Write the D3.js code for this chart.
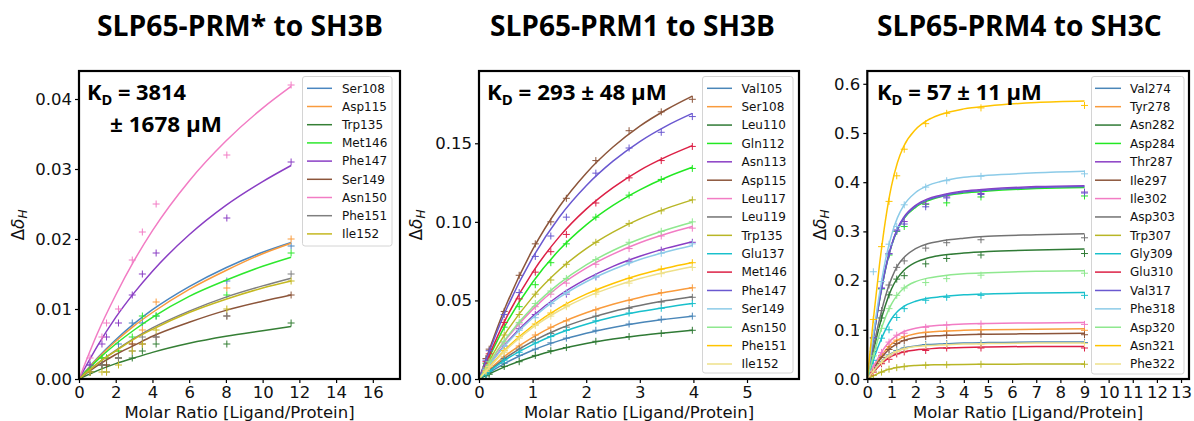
<!DOCTYPE html>
<html><head><meta charset="utf-8">
<script src="https://cdn.jsdelivr.net/npm/d3@7"></script>
<style>
body{margin:0;background:#fff}
svg{display:block}
</style>
</head><body>
<svg id="c" width="1194" height="421"></svg>
<script>
// ---------------- DATA ----------------
const titles = ["SLP65-PRM* to SH3B", "SLP65-PRM1 to SH3B", "SLP65-PRM4 to SH3C"];
const kdTexts = [["3814", "± 1678 µM"], ["293 ± 48 µM"], ["57 ± 11 µM"]];
const xLabel = "Molar Ratio [Ligand/Protein]";

const p1Ticks = {x: [0, 2, 4, 6, 8, 10, 12, 14, 16], y: [0, 0.01, 0.02, 0.03, 0.04]};
const p2Ticks = {x: [0, 1, 2, 3, 4, 5], y: [0, 0.05, 0.10, 0.15]};
const p3Ticks = {x: [0,1,2,3,4,5,6,7,8,9,10,11,12,13], y: [0, 0.1, 0.2, 0.3, 0.4, 0.5, 0.6]};

// Panel 1
const p1Residues = ["Ser108","Asp115","Trp135","Met146","Phe147","Ser149","Asn150","Phe151","Ile152"];
const p1PointX = [0.6, 1.25, 1.5, 2.15, 2.9, 3.45, 4.2, 8.05, 11.55];
const p1PointY = [
  [0.002,0.003,0.003,0.005,0.008,0.008,0.009,0.014,0.019],
  [0.001,0.003,0.003,0.004,0.005,0.007,0.011,0.013,0.020],
  [0.001,0.002,0.002,0.003,0.003,0.004,0.005,0.005,0.008],
  [0.001,0.003,0.003,0.004,0.006,0.009,0.009,0.012,0.018],
  [0.002,0.005,0.006,0.008,0.012,0.015,0.018,0.023,0.031],
  [0.001,0.002,0.002,0.003,0.005,0.005,0.006,0.009,0.012],
  [0.003,0.006,0.008,0.010,0.017,0.021,0.025,0.032,0.042],
  [0.001,0.002,0.001,0.003,0.004,0.006,0.006,0.009,0.015],
  [0.001,0.001,0.001,0.002,0.004,0.005,0.007,0.010,0.014]
];
const p1FitX = [0, 1, 2, 3, 4, 6, 8, 10, 11.55];
const p1FitY = [
  [0,0.0030,0.0056,0.0079,0.0099,0.0132,0.0159,0.0181,0.0195],
  [0,0.0029,0.0054,0.0076,0.0095,0.0128,0.0155,0.0179,0.0194],
  [0,0.0012,0.0022,0.0030,0.0038,0.0051,0.0061,0.0069,0.0075],
  [0,0.0027,0.0050,0.0070,0.0088,0.0118,0.0141,0.0161,0.0174],
  [0,0.0047,0.0088,0.0123,0.0154,0.0206,0.0248,0.0282,0.0305],
  [0,0.0019,0.0035,0.0048,0.0061,0.0081,0.0098,0.0111,0.0120],
  [0,0.0065,0.0120,0.0169,0.0212,0.0283,0.0340,0.0387,0.0418],
  [0,0.0022,0.0041,0.0058,0.0073,0.0097,0.0117,0.0133,0.0144],
  [0,0.0022,0.0040,0.0057,0.0071,0.0095,0.0114,0.0130,0.0140]
];

// Panel 2
const p2Residues = ["Val105","Ser108","Leu110","Gln112","Asn113","Asp115","Leu117","Leu119","Trp135","Glu137","Met146","Phe147","Ser149","Asn150","Phe151","Ile152"];
const p2PointX = [0.13, 0.19, 0.47, 0.75, 1.05, 1.34, 1.63, 2.18, 2.8, 3.4, 3.98];
const p2PointY = [
  [0.003,0.004,0.010,0.015,0.019,0.023,0.026,0.031,0.035,0.038,0.040],
  [0.004,0.006,0.014,0.021,0.028,0.033,0.037,0.044,0.050,0.055,0.058],
  [0.002,0.003,0.008,0.011,0.015,0.018,0.020,0.024,0.027,0.029,0.031],
  [0.010,0.014,0.033,0.046,0.060,0.074,0.086,0.103,0.117,0.127,0.134],
  [0.006,0.009,0.021,0.032,0.041,0.048,0.054,0.065,0.075,0.082,0.087],
  [0.013,0.019,0.043,0.066,0.086,0.100,0.115,0.139,0.158,0.170,0.178],
  [0.007,0.010,0.023,0.035,0.046,0.054,0.061,0.073,0.083,0.091,0.096],
  [0.004,0.006,0.013,0.019,0.025,0.029,0.033,0.040,0.045,0.049,0.052],
  [0.008,0.012,0.028,0.041,0.054,0.063,0.073,0.087,0.099,0.107,0.114],
  [0.003,0.005,0.012,0.017,0.023,0.027,0.031,0.037,0.042,0.045,0.048],
  [0.011,0.016,0.036,0.051,0.068,0.081,0.092,0.112,0.128,0.139,0.148],
  [0.012,0.018,0.041,0.055,0.078,0.091,0.103,0.131,0.147,0.157,0.167],
  [0.006,0.009,0.021,0.031,0.039,0.048,0.055,0.065,0.074,0.080,0.086],
  [0.007,0.011,0.024,0.036,0.048,0.056,0.064,0.076,0.087,0.094,0.100],
  [0.005,0.008,0.018,0.027,0.035,0.042,0.047,0.056,0.064,0.070,0.074],
  [0.005,0.008,0.017,0.026,0.034,0.040,0.046,0.054,0.061,0.067,0.071]
];
const p2FitX = [0, 0.5, 1, 1.5, 2, 2.5, 3, 3.5, 3.98];
const p2FitY = [
  [0,0.0103,0.0183,0.0244,0.0291,0.0328,0.0358,0.0381,0.0400],
  [0,0.0150,0.0265,0.0354,0.0422,0.0476,0.0519,0.0553,0.0580],
  [0,0.0080,0.0142,0.0189,0.0226,0.0254,0.0277,0.0295,0.0310],
  [0,0.0348,0.0616,0.0822,0.0981,0.1105,0.1204,0.1284,0.1347],
  [0,0.0225,0.0399,0.0533,0.0636,0.0717,0.0781,0.0833,0.0874],
  [0,0.0464,0.0823,0.1098,0.1310,0.1476,0.1609,0.1715,0.1800],
  [0,0.0250,0.0443,0.0592,0.0706,0.0795,0.0867,0.0924,0.0970],
  [0,0.0135,0.0239,0.0320,0.0381,0.0430,0.0468,0.0499,0.0524],
  [0,0.0294,0.0521,0.0695,0.0830,0.0935,0.1019,0.1086,0.1140],
  [0,0.0124,0.0219,0.0293,0.0349,0.0394,0.0429,0.0457,0.0480],
  [0,0.0383,0.0679,0.0906,0.1081,0.1218,0.1328,0.1415,0.1485],
  [0,0.0436,0.0772,0.1031,0.1230,0.1386,0.1511,0.1611,0.1690],
  [0,0.0219,0.0388,0.0519,0.0619,0.0697,0.0760,0.0810,0.0850],
  [0,0.0257,0.0456,0.0608,0.0726,0.0818,0.0891,0.0950,0.0997],
  [0,0.0191,0.0339,0.0453,0.0540,0.0608,0.0663,0.0707,0.0742],
  [0,0.0184,0.0327,0.0436,0.0521,0.0586,0.0639,0.0681,0.0715]
];

// Panel 3
const p3Residues = ["Val274","Tyr278","Asn282","Asp284","Thr287","Ile297","Ile302","Asp303","Trp307","Gly309","Glu310","Val317","Phe318","Asp320","Asn321","Phe322"];
const p3PointX = [0.25, 0.59, 0.9, 1.22, 1.53, 2.42, 3.29, 4.71, 9.0];
const p3PointY = [
  [0.016,0.035,0.049,0.058,0.063,0.070,0.072,0.073,0.074],
  [0.022,0.048,0.066,0.079,0.086,0.095,0.098,0.100,0.099],
  [0.056,0.124,0.171,0.203,0.210,0.234,0.245,0.252,0.255],
  [0.083,0.183,0.252,0.300,0.310,0.355,0.358,0.370,0.372],
  [0.084,0.185,0.255,0.303,0.320,0.356,0.370,0.377,0.380],
  [0.020,0.044,0.060,0.072,0.078,0.086,0.089,0.091,0.090],
  [0.025,0.054,0.075,0.089,0.093,0.105,0.110,0.112,0.111],
  [0.063,0.139,0.191,0.227,0.240,0.266,0.277,0.283,0.287],
  [0.007,0.014,0.020,0.023,0.025,0.028,0.029,0.030,0.030],
  [0.038,0.083,0.100,0.125,0.143,0.160,0.166,0.170,0.170],
  [0.014,0.031,0.040,0.051,0.055,0.058,0.063,0.063,0.063],
  [0.084,0.184,0.254,0.301,0.315,0.350,0.368,0.375,0.378],
  [0.218,0.198,0.274,0.310,0.354,0.390,0.403,0.412,0.417],
  [0.047,0.103,0.143,0.170,0.185,0.196,0.204,0.211,0.215],
  [0.121,0.269,0.361,0.413,0.467,0.519,0.540,0.551,0.556],
  [0.016,0.034,0.047,0.056,0.061,0.068,0.070,0.071,0.072]
];
const p3FitX = [0, 0.25, 0.5, 0.75, 1, 1.25, 1.5, 2, 2.5, 3, 4, 5, 7, 9];
const p3FitY = [
  [0,0.016,0.031,0.043,0.052,0.058,0.063,0.067,0.070,0.071,0.073,0.074,0.075,0.075],
  [0,0.022,0.042,0.058,0.071,0.079,0.085,0.092,0.095,0.097,0.099,0.100,0.101,0.102],
  [0,0.056,0.107,0.150,0.183,0.205,0.220,0.237,0.246,0.251,0.256,0.259,0.262,0.264],
  [0,0.083,0.158,0.222,0.270,0.303,0.325,0.349,0.362,0.370,0.378,0.382,0.387,0.389],
  [0,0.084,0.160,0.224,0.272,0.306,0.328,0.353,0.366,0.373,0.382,0.386,0.391,0.393],
  [0,0.020,0.038,0.053,0.064,0.072,0.078,0.084,0.087,0.088,0.090,0.091,0.092,0.093],
  [0,0.025,0.047,0.066,0.080,0.089,0.096,0.103,0.107,0.109,0.112,0.113,0.114,0.115],
  [0,0.063,0.120,0.168,0.204,0.230,0.246,0.265,0.275,0.280,0.286,0.290,0.293,0.295],
  [0,0.0065,0.0124,0.0174,0.0211,0.0237,0.0255,0.0274,0.0284,0.0290,0.0296,0.0300,0.0303,0.0305],
  [0,0.038,0.072,0.100,0.122,0.137,0.147,0.158,0.164,0.167,0.171,0.173,0.175,0.176],
  [0,0.014,0.027,0.038,0.046,0.051,0.055,0.059,0.061,0.063,0.064,0.065,0.066,0.066],
  [0,0.084,0.159,0.223,0.271,0.304,0.326,0.351,0.364,0.371,0.380,0.384,0.389,0.391],
  [0,0.090,0.172,0.241,0.292,0.328,0.352,0.379,0.393,0.401,0.410,0.414,0.419,0.422],
  [0,0.047,0.090,0.125,0.152,0.171,0.184,0.198,0.205,0.209,0.214,0.216,0.219,0.220],
  [0,0.121,0.230,0.322,0.392,0.440,0.472,0.507,0.526,0.537,0.549,0.555,0.562,0.565],
  [0,0.016,0.030,0.042,0.051,0.057,0.061,0.066,0.068,0.069,0.071,0.072,0.073,0.073]
];

// ---------------- STYLES ----------------
const p1Colors = ["#4a86c0","#f99b3c","#357f35","#2ee82e","#8a3ec4","#8c553a","#f27cc4","#7f7f7f","#c4b820"];
const p16Colors = ["#4a86b8","#f99b3c","#2f7a35","#22e822","#8a3ec4","#8c553a","#f27cc4","#737373","#b8b626","#19c0cc","#dc1f45","#6a58d0","#8ccbe8","#8fe88f","#ffc400","#eee08a"];

const svg = d3.select("#c");
const FONT = "'DejaVu Sans', sans-serif";
const BOLD = "'Open Sans', 'Noto Sans', sans-serif";

function fitWidth(sel, x0, target) {
  const w = sel.node().getBBox().width;
  sel.attr("transform", `translate(${x0},0) scale(${target / w},1) translate(${-x0},0)`);
}

function drawPanel(o) {
  const x = d3.scaleLinear().domain([0, o.xmax]).range([o.L, o.R]);
  const y = d3.scaleLinear().domain([0, o.ymax]).range([o.B, o.T]);
  const g = svg.append("g");

  const xa = g.append("g").attr("transform", `translate(0,${o.B})`)
    .call(d3.axisBottom(x).tickValues(o.ticks.x).tickFormat(d3.format("d")).tickSize(4).tickPadding(3));
  const ya = g.append("g").attr("transform", `translate(${o.L},0)`)
    .call(d3.axisLeft(y).tickValues(o.ticks.y).tickFormat(d3.format(o.yfmt)).tickSize(4).tickPadding(3));
  [xa, ya].forEach(a => {
    a.select(".domain").remove();
    a.selectAll("line").attr("stroke", "#000").attr("stroke-width", 1.2);
    a.selectAll("text").attr("font-family", FONT).attr("font-size", 16.5).attr("fill", "#111");
  });

  const clipId = "clip" + o.id;
  svg.append("clipPath").attr("id", clipId).append("rect")
    .attr("x", o.L).attr("y", o.T).attr("width", o.R - o.L).attr("height", o.B - o.T);
  const plot = g.append("g").attr("clip-path", `url(#${clipId})`);

  const line = d3.line().x(d => x(d[0])).y(d => y(d[1])).curve(d3.curveMonotoneX);
  o.residues.forEach((r, i) => {
    const c = o.colors[i];
    const pts = o.px.map((xv, j) => [xv, o.py[i][j]]);
    plot.append("g").selectAll("path").data(pts).join("path")
      .attr("d", d => { const X = x(d[0]), Y = y(d[1]); return `M${X - 3.5},${Y}h7M${X},${Y - 3.5}v7`; })
      .attr("stroke", c).attr("stroke-width", 1).attr("fill", "none");
    const fit = o.fx.map((xv, j) => [xv, o.fy[i][j]]);
    plot.append("path").attr("d", line(fit)).attr("fill", "none")
      .attr("stroke", c).attr("stroke-width", 1.5);
  });

  // legend
  const lg = o.legend;
  g.append("rect").attr("x", lg.x0).attr("y", lg.y0).attr("width", lg.x1 - lg.x0).attr("height", lg.y1 - lg.y0)
    .attr("rx", 2.5).attr("fill", "#fff").attr("fill-opacity", 0.85).attr("stroke", "#d4d4d4").attr("stroke-width", 1);
  o.residues.forEach((r, i) => {
    const yy = lg.row0 + i * lg.dy;
    g.append("line").attr("x1", lg.lx0).attr("x2", lg.lx1).attr("y1", yy).attr("y2", yy)
      .attr("stroke", o.colors[i]).attr("stroke-width", 1.5);
    g.append("text").attr("x", lg.tx).attr("y", yy + 4.3).attr("font-family", FONT).attr("font-size", 12)
      .attr("fill", "#111").text(r);
  });

  // frame
  g.append("rect").attr("x", o.L).attr("y", o.T).attr("width", o.R - o.L).attr("height", o.B - o.T)
    .attr("fill", "none").attr("stroke", "#000").attr("stroke-width", 2.2);

  // title
  const t = svg.append("text").attr("x", o.title.x).attr("y", 36).attr("font-family", BOLD)
    .attr("font-weight", 700).attr("font-size", 28).attr("fill", "#000").text(o.title.text);
  fitWidth(t, o.title.x, o.title.w);

  // KD text
  o.kd.forEach(k => {
    const tx = svg.append("text").attr("x", k.x).attr("y", k.y).attr("font-family", BOLD)
      .attr("font-weight", 700).attr("font-size", 21).attr("fill", "#000");
    if (k.sub) {
      tx.append("tspan").text("K");
      tx.append("tspan").attr("font-size", 14).attr("dy", 5).text("D");
      tx.append("tspan").attr("dy", -5).text(" = " + k.text);
    } else {
      tx.text(k.text);
    }
    fitWidth(tx, k.x, k.w);
  });

  // axis labels
  svg.append("text").attr("x", (o.L + o.R) / 2).attr("y", 417.5).attr("text-anchor", "middle")
    .attr("font-family", FONT).attr("font-size", 16.5).attr("fill", "#111").text(xLabel);
  const yl = svg.append("text").attr("transform", `translate(${o.ylx},${(o.T + o.B) / 2}) rotate(-90)`)
    .attr("x", 0).attr("y", 4).attr("text-anchor", "middle").attr("font-family", FONT).attr("font-size", 17).attr("fill", "#111");
  yl.append("tspan").text("Δ");
  yl.append("tspan").attr("font-style", "italic").text("δ");
  yl.append("tspan").attr("font-style", "italic").attr("font-size", 12).attr("dy", 3).text("H");
}

drawPanel({
  id: 1, L: 79, R: 400, T: 71, B: 379, xmax: 17.48, ymax: 0.044, ticks: p1Ticks, yfmt: ".2f",
  residues: p1Residues, colors: p1Colors, px: p1PointX, py: p1PointY, fx: p1FitX, fy: p1FitY,
  legend: {x0: 302.5, y0: 76.5, x1: 392, y1: 246, row0: 88.3, dy: 18.2, lx0: 307, lx1: 332, tx: 342},
  title: {text: titles[0], x: 97, w: 286},
  kd: [{sub: true, text: kdTexts[0][0], x: 87, y: 100, w: 99}, {sub: false, text: kdTexts[0][1], x: 110, y: 132, w: 112}],
  ylx: 20
});
drawPanel({
  id: 2, L: 479, R: 799, T: 71, B: 379, xmax: 5.97, ymax: 0.196, ticks: p2Ticks, yfmt: ".2f",
  residues: p2Residues, colors: p16Colors, px: p2PointX, py: p2PointY, fx: p2FitX, fy: p2FitY,
  legend: {x0: 702.5, y0: 76.5, x1: 793, y1: 373, row0: 88.3, dy: 18.38, lx0: 707, lx1: 732, tx: 741.5},
  title: {text: titles[1], x: 490, w: 285},
  kd: [{sub: true, text: kdTexts[1][0], x: 487, y: 100, w: 180}],
  ylx: 418
});
drawPanel({
  id: 3, L: 867.3, R: 1189, T: 71, B: 379, xmax: 13.33, ymax: 0.626, ticks: p3Ticks, yfmt: ".1f",
  residues: p3Residues, colors: p16Colors, px: p3PointX, py: p3PointY, fx: p3FitX, fy: p3FitY,
  legend: {x0: 1091.5, y0: 76.5, x1: 1184, y1: 374, row0: 88.3, dy: 18.38, lx0: 1095, lx1: 1121, tx: 1130},
  title: {text: titles[2], x: 877, w: 285},
  kd: [{sub: true, text: kdTexts[2][0], x: 877, y: 100, w: 165}],
  ylx: 822
});
</script>
</body></html>
